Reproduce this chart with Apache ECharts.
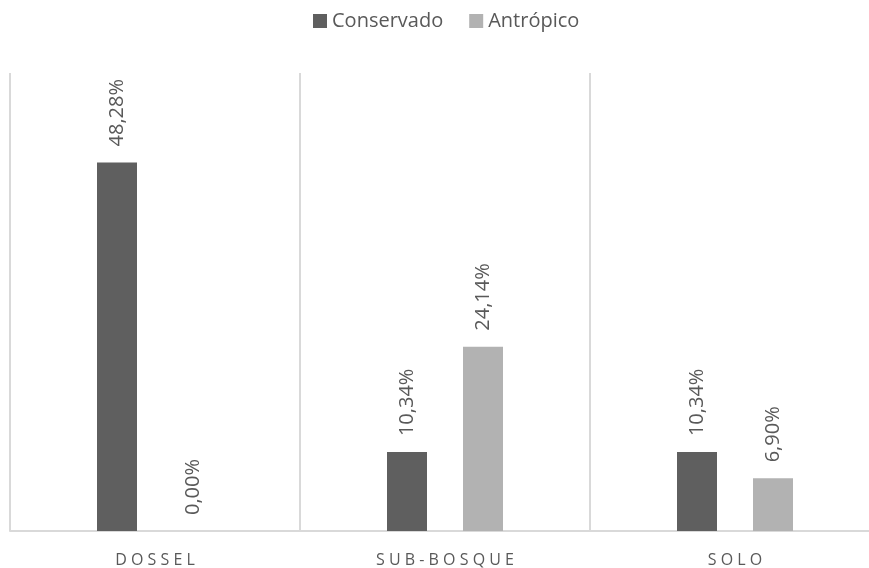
<!DOCTYPE html>
<html>
<head>
<meta charset="utf-8">
<script src="https://cdn.jsdelivr.net/npm/echarts@6/dist/echarts.min.js"></script>
<style>
  html, body { margin: 0; padding: 0; background: #fff; }
  #chart { width: 869px; height: 568px; }
</style>
</head>
<body>
<div id="chart"></div>
<script>
// dados do gráfico
var categorias = ['DOSSEL', 'SUB-BOSQUE', 'SOLO'];
var conservado = [48.28, 10.34, 10.34];
var antropico = [0.00, 24.14, 6.90];

var fonte = 'Open Sans';
var cinzaTexto = '#595959';

var myChart = echarts.init(document.getElementById('chart'));

// rótulo rotacionado acima da barra, formato "48,28%"
var rotulo = {
    show: true,
    position: 'top',
    rotate: 90,
    align: 'left',
    verticalAlign: 'middle',
    distance: 16,
    color: cinzaTexto,
    fontFamily: fonte,
    fontSize: 20,
    formatter: function (p) {
        return p.value.toFixed(2).replace('.', ',') + '%';
    }
};

var option = {
    animation: false,
    legend: {
        top: 6,
        left: 308,
        itemWidth: 14,
        itemHeight: 14,
        itemGap: 26,
        icon: 'rect',
        textStyle: { color: cinzaTexto, fontFamily: fonte, fontSize: 20 },
        data: ['Conservado', 'Antrópico']
    },
    grid: {
        left: 10,
        width: 870,
        top: 73,
        bottom: 37,
        outerBoundsMode: 'none'
    },
    xAxis: {
        type: 'category',
        data: categorias,
        axisLine: { lineStyle: { color: '#d9d9d9', width: 2 } },
        axisTick: { show: false },
        splitLine: { show: true, lineStyle: { color: '#d9d9d9', width: 2 } },
        axisLabel: {
            color: cinzaTexto,
            fontFamily: fonte,
            fontSize: 16,
            margin: 21,
            formatter: function (v) { return v.split('').join(' '); }
        }
    },
    yAxis: {
        type: 'value',
        min: 0,
        max: 60,
        show: false,
        splitLine: { show: false }
    },
    series: [
        {
            name: 'Conservado',
            type: 'bar',
            data: conservado,
            barWidth: 40,
            barGap: '90%',
            itemStyle: { color: '#5f5f5f' },
            label: rotulo
        },
        {
            name: 'Antrópico',
            type: 'bar',
            data: antropico,
            barWidth: 40,
            itemStyle: { color: '#b2b2b2' },
            label: rotulo
        }
    ]
};
myChart.setOption(option);
</script>
</body>
</html>
